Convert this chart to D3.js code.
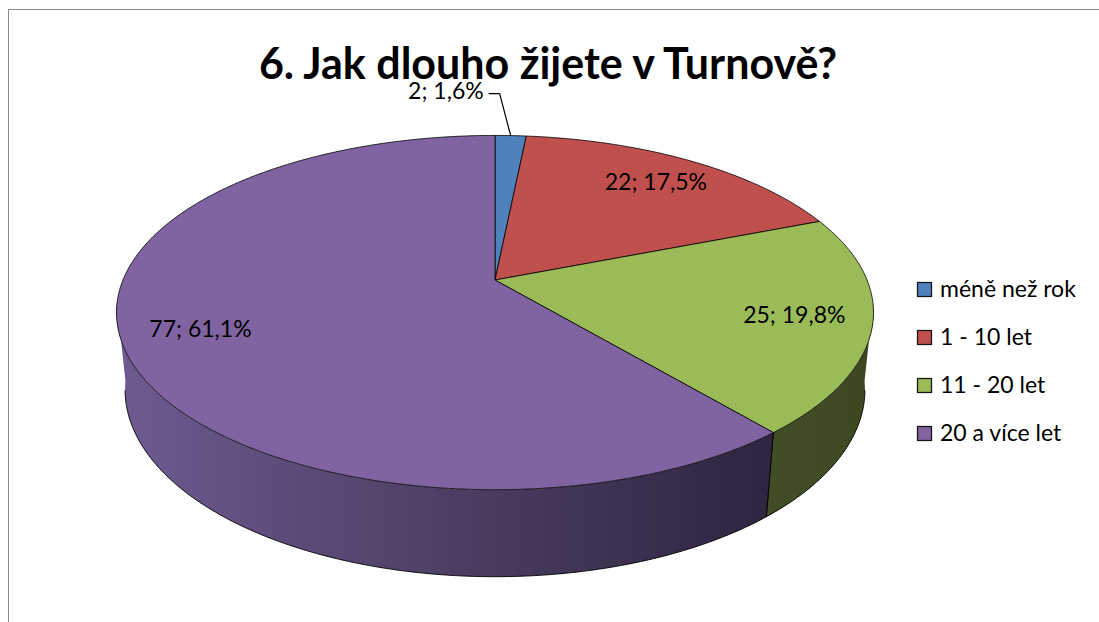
<!DOCTYPE html>
<html>
<head>
<meta charset="utf-8">
<script src="https://cdn.jsdelivr.net/npm/d3@7"></script>
<style>
  body { margin: 0; background: #fff; }
  text { font-family: Lato, "Open Sans", sans-serif; }
</style>
</head>
<body>
<script>
// 3D pie: Jak dlouho žijete v Turnově?

var width = 1099,
    height = 622;

var categories = ["méně než rok", "1 - 10 let", "11 - 20 let", "20 a více let"];
var counts = [2, 22, 25, 77];
var percents = ["1,6%", "17,5%", "19,8%", "61,1%"];
var colors = ["#4f81bd", "#c0504d", "#9bbb59", "#8064a2"];
var title = "6. Jak dlouho žijete v Turnově?";

var svg = d3.select("body")
            .append("svg")
            .attr("width", width)
            .attr("height", height);

var defs = svg.append("defs");

// chart frame
svg.append("rect")
    .attr("x", 8.5)
    .attr("y", 9.5)
    .attr("width", width + 20)
    .attr("height", height + 20)
    .attr("fill", "#fff")
    .attr("stroke", "#8a8a8a")
    .attr("stroke-width", 1);

// camera for the tilted disc (radius 1)
var cx = 495, cy = 280,
    D = 4.83, f = 1797,
    sinA = 0.46, cosA = 0.888,
    H = 0.235;

function proj(theta, r, bottom) {
    var X = r * Math.sin(theta),
        zf = r * Math.cos(theta),   // distance towards the back
        y = bottom ? -H : 0;
    var v = y * cosA + zf * sinA,
        d = D + zf * cosA - y * sinA;
    return [cx + f * X / d, cy - f * v / d];
}

var pie = d3.pie().sort(null).value(function(d) { return d; });
var arcs = pie(counts);

function arcPoints(a0, a1, bottom) {
    var n = Math.max(2, Math.ceil((a1 - a0) / 0.01)), pts = [];
    for (var i = 0; i <= n; i++) pts.push(proj(a0 + (a1 - a0) * i / n, 1, bottom));
    return pts;
}

var line = d3.line();

// visible side of the cylinder, shaded light (left) to dark (right)
var sil = Math.acos(-cosA / D);
var sideShade = [
    ["#3e4a22", "#3e4a22", "#3b4620"],
    ["#3e4a22", "#3e4a22", "#3b4620"],
    ["#414d24", "#3f4b23", "#3c4721"],
    ["#6e5a92", "#4d3f64", "#2e2540"]
];

var sides = svg.append("g");
arcs.forEach(function(a, i) {
    var s0 = Math.max(a.startAngle, sil - 0.05),
        s1 = Math.min(a.endAngle, 2 * Math.PI - sil + 0.05);
    if (s1 <= s0) return;
    var top = arcPoints(s0, s1, false),
        bot = arcPoints(s0, s1, true);
    var xs = top.concat(bot).map(function(p) { return p[0]; });
    var g = defs.append("linearGradient")
        .attr("id", "side" + i)
        .attr("gradientUnits", "userSpaceOnUse")
        .attr("x1", d3.min(xs)).attr("x2", d3.max(xs))
        .attr("y1", 0).attr("y2", 0);
    sideShade[i].forEach(function(c, k) {
        g.append("stop").attr("offset", k / 2).attr("stop-color", c);
    });
    sides.append("path")
        .attr("d", line(top.concat(bot.reverse())) + "Z")
        .attr("fill", "url(#side" + i + ")");
    // bottom rim
    var b0 = Math.max(a.startAngle, sil), b1 = Math.min(a.endAngle, 2 * Math.PI - sil);
    if (b1 > b0) {
        sides.append("path")
            .attr("d", line(arcPoints(b0, b1, true)))
            .attr("fill", "none")
            .attr("stroke", "#000")
            .attr("stroke-width", 0.9);
    }
    // vertical edge at slice boundary
    [a.startAngle, a.endAngle].forEach(function(t) {
        if (t > sil && t < 2 * Math.PI - sil) {
            sides.append("path")
                .attr("d", line([proj(t, 1, false), proj(t, 1, true)]))
                .attr("stroke", "#000")
                .attr("stroke-width", 0.9);
        }
    });
});

// top faces
svg.append("g")
    .selectAll("path")
    .data(arcs)
    .enter().append("path")
    .attr("d", function(a) {
        return line([[cx, cy]].concat(arcPoints(a.startAngle, a.endAngle, false))) + "Z";
    })
    .attr("fill", function(a, i) { return colors[i]; })
    .attr("stroke", "#000")
    .attr("stroke-width", 0.8)
    .attr("stroke-linejoin", "round");

// title
svg.append("text")
    .attr("x", 548)
    .attr("y", 79)
    .attr("text-anchor", "middle")
    .attr("font-size", "43px")
    .attr("font-weight", "bold")
    .attr("fill", "#000")
    .text(title);

// data labels
var labels = svg.append("g")
    .attr("font-size", "23px")
    .attr("fill", "#000");

arcs.forEach(function(a, i) {
    var mid = (a.startAngle + a.endAngle) / 2,
        txt = counts[i] + "; " + percents[i];
    if (a.endAngle - a.startAngle < 0.3) {
        // small slice: outside with leader
        var e = proj(mid, 1, false),
            k = [e[0] - 11, e[1] - 42],
            h = [k[0] - 11, k[1]];
        labels.append("path")
            .attr("d", line([e, k, h]))
            .attr("fill", "none")
            .attr("stroke", "#000")
            .attr("stroke-width", 1.2);
        labels.append("text")
            .attr("x", h[0] - 5)
            .attr("y", h[1] + 5)
            .attr("text-anchor", "end")
            .text(txt);
    } else {
        var p = proj(mid, 0.8, false);
        labels.append("text")
            .attr("x", p[0])
            .attr("y", p[1] + 8)
            .attr("text-anchor", "middle")
            .text(txt);
    }
});

// legend
var legend = svg.append("g")
    .attr("transform", "translate(917,282)");

var item = legend.selectAll("g")
    .data(categories)
    .enter().append("g")
    .attr("transform", function(d, i) { return "translate(0," + (i * 48) + ")"; });

item.append("rect")
    .attr("x", 0.5).attr("y", 0.5)
    .attr("width", 14).attr("height", 14)
    .attr("fill", function(d, i) { return colors[i]; })
    .attr("stroke", "#1a1a1a")
    .attr("stroke-width", 1.3);

item.append("text")
    .attr("x", 23)
    .attr("y", 15)
    .attr("font-size", "23px")
    .attr("fill", "#000")
    .text(function(d) { return d; });
</script>
</body>
</html>
